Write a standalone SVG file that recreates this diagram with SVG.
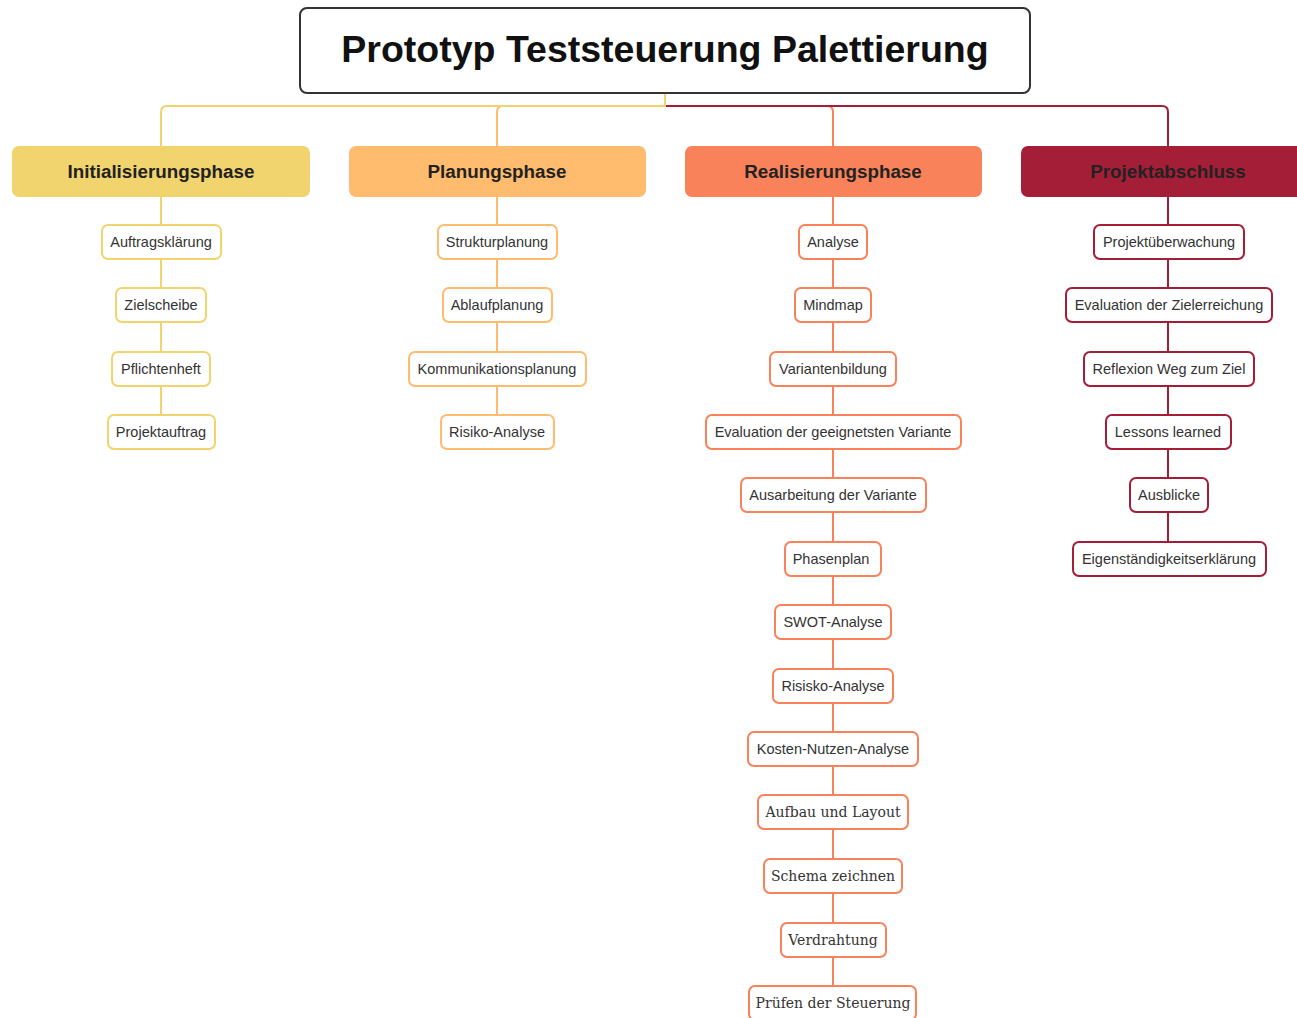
<svg xmlns="http://www.w3.org/2000/svg" width="1297" height="1018" viewBox="0 0 1297 1018">
<style>
.t{font-family:"Liberation Sans",Arial,sans-serif;font-size:14.5px;fill:#333;text-anchor:middle;dominant-baseline:central}
.s{font-family:"DejaVu Serif","Liberation Serif",serif;font-size:14px;fill:#333;text-anchor:middle;dominant-baseline:central}
.ph{font-family:"Liberation Sans",Arial,sans-serif;font-size:18.8px;font-weight:bold;fill:#222;text-anchor:middle;dominant-baseline:central}
.n{fill:#fff;stroke-width:2}
.y{stroke:#F2D46F}.o{stroke:#FFBC6E}.r{stroke:#F9825A}.c{stroke:#A51E38}
.ln{fill:none;stroke-width:2}
</style>
<rect width="1297" height="1018" fill="#fff"/>
<g id="connectors">
<path class="ln r" d="M665 106 H827 Q833 106 833 112 V1010"/>
<path class="ln o" d="M665 106 H503 Q497 106 497 112 V432"/>
<path class="ln c" d="M665 106 H1162 Q1168 106 1168 112 V559"/>
<path class="ln y" d="M665 93 V106 H167 Q161 106 161 112 V432"/>
</g>
<g id="root">
<rect x="300" y="8" width="730" height="85" rx="7" fill="#fff" stroke="#333" stroke-width="2"/>
<text x="665" y="49" font-family="Liberation Sans,Arial,sans-serif" font-size="37.5" font-weight="bold" fill="#111" text-anchor="middle" dominant-baseline="central">Prototyp Teststeuerung Palettierung</text>
</g>
<g id="p1"><rect x="12" y="146" width="298" height="51" rx="7" fill="#F2D46F"/><text class="ph" x="161" y="171">Initialisierungsphase</text></g>
<g id="p2"><rect x="349" y="146" width="297" height="51" rx="7" fill="#FFBC6E"/><text class="ph" x="497" y="171">Planungsphase</text></g>
<g id="p3"><rect x="685" y="146" width="297" height="51" rx="7" fill="#F9825A"/><text class="ph" x="833" y="171">Realisierungsphase</text></g>
<g id="p4"><rect x="1021" y="146" width="297" height="51" rx="7" fill="#A51E38"/><text class="ph" x="1168" y="171">Projektabschluss</text></g>

<g id="a1"><rect class="n y" x="102" y="225" width="119" height="34" rx="6"/><text class="t" x="161" y="242">Auftragsklärung</text></g>
<g id="a2"><rect class="n y" x="116" y="288" width="90" height="34" rx="6"/><text class="t" x="161" y="305">Zielscheibe</text></g>
<g id="a3"><rect class="n y" x="112" y="352" width="98" height="34" rx="6"/><text class="t" x="161" y="369">Pflichtenheft</text></g>
<g id="a4"><rect class="n y" x="108" y="415" width="107" height="34" rx="6"/><text class="t" x="161" y="432">Projektauftrag</text></g>

<g id="b1"><rect class="n o" x="438" y="225" width="119" height="34" rx="6"/><text class="t" x="497" y="242">Strukturplanung</text></g>
<g id="b2"><rect class="n o" x="443" y="288" width="109" height="34" rx="6"/><text class="t" x="497" y="305">Ablaufplanung</text></g>
<g id="b3"><rect class="n o" x="409" y="352" width="177" height="34" rx="6"/><text class="t" x="497" y="369">Kommunikationsplanung</text></g>
<g id="b4"><rect class="n o" x="441" y="415" width="113" height="34" rx="6"/><text class="t" x="497" y="432">Risiko-Analyse</text></g>

<g id="c1"><rect class="n r" x="799" y="225" width="68" height="34" rx="6"/><text class="t" x="833" y="242">Analyse</text></g>
<g id="c2"><rect class="n r" x="795" y="288" width="76" height="34" rx="6"/><text class="t" x="833" y="305">Mindmap</text></g>
<g id="c3"><rect class="n r" x="770" y="352" width="126" height="34" rx="6"/><text class="t" x="833" y="369">Variantenbildung</text></g>
<g id="c4"><rect class="n r" x="706" y="415" width="255" height="34" rx="6"/><text class="t" x="833" y="432">Evaluation der geeignetsten Variante</text></g>
<g id="c5"><rect class="n r" x="741" y="478" width="185" height="34" rx="6"/><text class="t" x="833" y="495">Ausarbeitung der Variante</text></g>
<g id="c6"><rect class="n r" x="785" y="542" width="96" height="34" rx="6"/><text class="t" x="831" y="559">Phasenplan</text></g>
<g id="c7"><rect class="n r" x="775" y="605" width="116" height="34" rx="6"/><text class="t" x="833" y="622">SWOT-Analyse</text></g>
<g id="c8"><rect class="n r" x="773" y="669" width="120" height="34" rx="6"/><text class="t" x="833" y="686">Risisko-Analyse</text></g>
<g id="c9"><rect class="n r" x="748" y="732" width="170" height="34" rx="6"/><text class="t" x="833" y="749">Kosten-Nutzen-Analyse</text></g>
<g id="c10"><rect class="n r" x="758" y="795" width="150" height="34" rx="6"/><text class="s" x="833" y="812">Aufbau und Layout</text></g>
<g id="c11"><rect class="n r" x="764" y="859" width="138" height="34" rx="6"/><text class="s" x="833" y="876">Schema zeichnen</text></g>
<g id="c12"><rect class="n r" x="781" y="923" width="105" height="34" rx="6"/><text class="s" x="833" y="940">Verdrahtung</text></g>
<g id="c13"><rect class="n r" x="749" y="986" width="167" height="34" rx="6"/><text class="s" x="833" y="1003">Prüfen der Steuerung</text></g>

<g id="d1"><rect class="n c" x="1094" y="225" width="150" height="34" rx="6"/><text class="t" x="1169" y="242">Projektüberwachung</text></g>
<g id="d2"><rect class="n c" x="1066" y="288" width="206" height="34" rx="6"/><text class="t" x="1169" y="305">Evaluation der Zielerreichung</text></g>
<g id="d3"><rect class="n c" x="1084" y="352" width="170" height="34" rx="6"/><text class="t" x="1169" y="369">Reflexion Weg zum Ziel</text></g>
<g id="d4"><rect class="n c" x="1106" y="415" width="125" height="34" rx="6"/><text class="t" x="1168" y="432">Lessons learned</text></g>
<g id="d5"><rect class="n c" x="1130" y="478" width="78" height="34" rx="6"/><text class="t" x="1169" y="495">Ausblicke</text></g>
<g id="d6"><rect class="n c" x="1073" y="542" width="193" height="34" rx="6"/><text class="t" x="1169" y="559">Eigenständigkeitserklärung</text></g>
</svg>
